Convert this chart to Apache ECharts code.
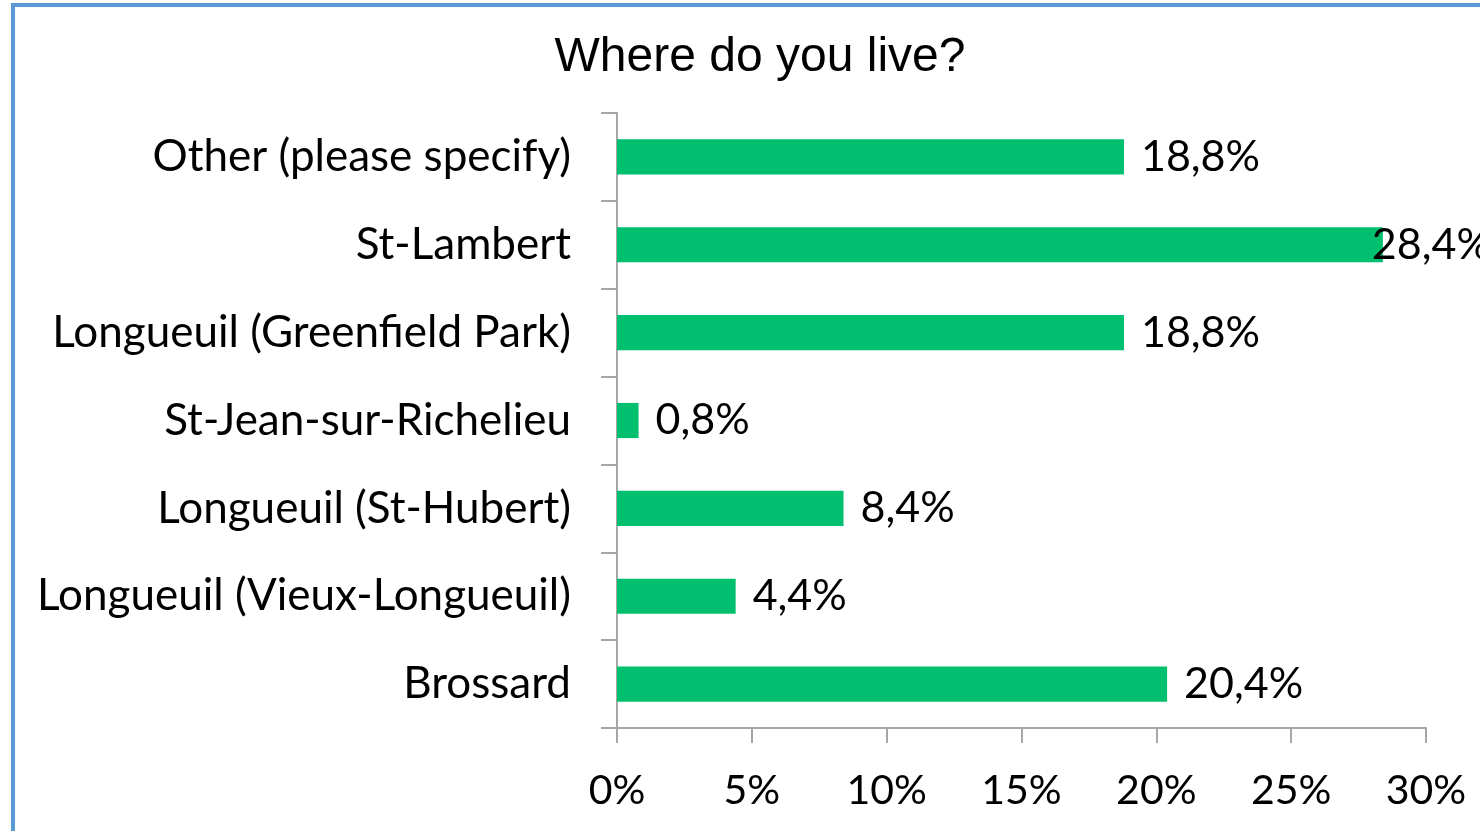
<!DOCTYPE html>
<html>
<head>
<meta charset="utf-8">
<script src="https://cdn.jsdelivr.net/npm/echarts@6/dist/echarts.min.js"></script>
<style>
  html, body { margin: 0; padding: 0; background: #fff; }
  #wrap { position: absolute; left: 11px; top: 3px; width: 1469px; height: 828px;
          border-left: 4px solid #5b9bd5; border-top: 4px solid #5b9bd5; }
  #chart { position: absolute; left: 0; top: 0; width: 1480px; height: 831px; }
</style>
</head>
<body>
<div id="wrap"></div>
<div id="chart"></div>
<script>
// 数据
var categories = [
  "Brossard",
  "Longueuil (Vieux-Longueuil)",
  "Longueuil (St-Hubert)",
  "St-Jean-sur-Richelieu",
  "Longueuil (Greenfield Park)",
  "St-Lambert",
  "Other (please specify)"
];
var values = [20.4, 4.4, 8.4, 0.8, 18.8, 28.4, 18.8];
var tickLabels = ["0%", "5%", "10%", "15%", "20%", "25%", "30%"];

(function() {
  var myChart = echarts.init(document.getElementById("chart"));
  var labelFont = "Lato, 'Open Sans', sans-serif";

  var option = {
    animation: false,
    title: {
      text: "Where do you live?",
      left: 755,
      top: 29,
      textAlign: "center",
      textStyle: {
        fontFamily: "'Liberation Sans', Arial, sans-serif",
        fontSize: 48,
        fontWeight: "normal",
        color: "#000"
      }
    },
    grid: {
      left: 617,
      right: 54,
      top: 113,
      bottom: 103,
      containLabel: false
    },
    xAxis: {
      type: "value",
      min: 0,
      max: 30,
      interval: 5,
      axisLine: { show: true, lineStyle: { color: "#a6a6a6", width: 2 } },
      axisTick: { show: true, length: 15, lineStyle: { color: "#a6a6a6", width: 2 } },
      splitLine: { show: false },
      axisLabel: {
        margin: 42,
        fontFamily: labelFont,
        fontSize: 41,
        color: "#000",
        formatter: function(v) {
          return tickLabels[Math.round(v / 5)];
        }
      }
    },
    yAxis: {
      type: "category",
      data: categories,
      axisLine: { show: true, lineStyle: { color: "#a6a6a6", width: 2 } },
      axisTick: { show: true, length: 16, lineStyle: { color: "#a6a6a6", width: 2 } },
      axisLabel: {
        margin: 46,
        fontFamily: labelFont,
        fontSize: 44,
        color: "#000"
      }
    },
    series: [
      {
        type: "bar",
        barWidth: "40%",
        itemStyle: { color: "#00bf6f" },
        data: values.map(function(v, i) {
          var item = { value: v };
          if (v > 25) {
            item.label = { distance: -11 };
          }
          return item;
        }),
        label: {
          show: true,
          position: "right",
          distance: 17,
          fontFamily: labelFont,
          fontSize: 43,
          color: "#000",
          formatter: function(p) {
            return p.value.toFixed(1).replace(".", ",") + "%";
          }
        }
      }
    ]
  };

  myChart.setOption(option);
  window.addEventListener("resize", function() {
    myChart.resize();
  });
})();
</script>
</body>
</html>
